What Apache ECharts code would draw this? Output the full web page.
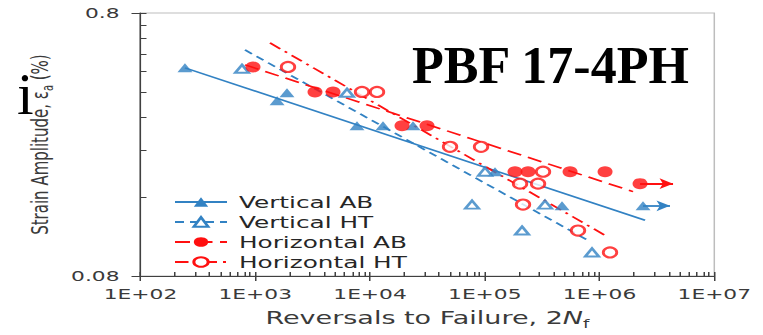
<!DOCTYPE html>
<html><head><meta charset="utf-8">
<script src="https://cdn.jsdelivr.net/npm/echarts@6/dist/echarts.min.js"></script>
<style>
html,body{margin:0;padding:0;background:#fff;overflow:hidden;}
#wrap{width:763px;height:335px;overflow:hidden;position:relative;background:#fff;}
#chart{position:absolute;left:0;top:0;width:508.667px;height:335px;transform:scaleX(1.5);transform-origin:0 0;}
</style></head><body><div id="wrap"><div id="chart"></div></div>
<script>
const S = 1.5; // the reference figure is stretched horizontally

// ---- tick labels / categories ----
const xTickLabels = ['1E+02', '1E+03', '1E+04', '1E+05', '1E+06', '1E+07'];
const yTickLabels = ['0.08', '0.8'];
const seriesNames = ['Vertical AB', 'Vertical HT', 'Horizontal AB', 'Horizontal HT'];
const titleText = 'PBF 17-4PH';

// ---- test data: reversals to failure (2Nf) and strain amplitude (%) ----
const vabN      = [244, 1550, 1890, 7700, 12980, 23700, 122800, 471000, 2393000];
const vabStrain = [0.495, 0.371, 0.398, 0.298, 0.298, 0.298, 0.1995, 0.148, 0.148];
const vhtN      = [766, 6300, 100500, 77440, 335000, 211200, 860000];
const vhtStrain = [0.491, 0.398, 0.1995, 0.1496, 0.1496, 0.1192, 0.0984];
const habN      = [956, 3316, 4760, 19000, 31380, 183400, 238200, 553400, 1117000, 2254000];
const habStrain = [0.499, 0.401, 0.401, 0.298, 0.298, 0.1995, 0.1995, 0.1995, 0.1995, 0.1797];
const hhtN      = [1929, 8515, 11510, 49800, 92750, 321800, 202900, 291200, 215400, 649400, 1234000];
const hhtStrain = [0.499, 0.401, 0.401, 0.248, 0.248, 0.1995, 0.1797, 0.1797, 0.1496, 0.1192, 0.0984];

// ---- fitted strain-life lines (end points) ----
const vabFitN = [244, 2492000];      const vabFitStrain = [0.495, 0.1304];
const vhtFitN = [814, 826300];       const vhtFitStrain = [0.579, 0.1083];
const habFitN = [814, 1958000];      const habFitStrain = [0.508, 0.1676];
const hhtFitN = [1344, 1163000];     const hhtFitStrain = [0.6156, 0.1132];

// ---- run-outs (arrow from point to tip) ----
const vabRunoutN = [2393000, 4110000]; const vabRunoutStrain = [0.148, 0.148];
const habRunoutN = [2254000, 4370000]; const habRunoutStrain = [0.1797, 0.1797];

// ---- tick positions ----
const xMajor = [1e2, 1e3, 1e4, 1e5, 1e6, 1e7];
const xMinor = [];
for (let d = 2; d < 7; d++) for (let k = 1; k <= 9; k++) xMinor.push(k * Math.pow(10, d));
xMinor.push(1e7);
const yMajor = [0.08, 0.8];
const yMinor = [];
for (let k = 1; k <= 10; k++) yMinor.push(+(0.08 * k).toFixed(2));

const blue = '#3282c3';
const red = '#ff1010';
const axisColor = '#404040';
const textColor = '#3a3a3a';
const font = 'DejaVu Sans';

const pts = (n, e) => n.map((v, i) => [v, e[i]]);

const chart = echarts.init(document.getElementById('chart'), null, {renderer: 'svg'});

function fitLine(name, n, e, color, type, symbol) {
  return {
    type: 'line', name: name, data: pts(n, e), symbol: symbol, showSymbol: false,
    symbolSize: 10, silent: true, z: 2,
    lineStyle: {color: color, width: 1.6, type: type},
    itemStyle: {color: color}
  };
}
function scatter(name, n, e, color, symbol, size, runN, runE) {
  const s = {
    type: 'scatter', name: name, data: pts(n, e), symbol: symbol, symbolSize: size, z: 3,
    itemStyle: {color: color, borderWidth: symbol.indexOf('empty') === 0 ? 1.5 : 0}
  };
  if (runN) {
    s.markLine = {
      silent: true, symbol: ['none', 'arrow'], symbolSize: [8, 9],
      label: {show: false},
      lineStyle: {color: color, type: 'solid', width: 1.8},
      data: [[{coord: [runN[0], runE[0]]}, {coord: [runN[1], runE[1]]}]]
    };
  }
  return s;
}

const option = {
  animation: false,
  backgroundColor: '#fff',
  grid: {left: 140.5 / S, top: 13, width: (714.3 - 140.5) / S, height: 263.7,
         show: true, borderColor: '#bdbdbd', borderWidth: 1, backgroundColor: 'transparent'},
  xAxis: [
    {
      type: 'log', logBase: 10, min: 1e2, max: 1e7, position: 'bottom',
      axisLine: {show: true, onZero: false, lineStyle: {color: axisColor, width: 1}},
      axisTick: {show: true, inside: false, length: 5, customValues: xMajor, lineStyle: {color: axisColor}},
      axisLabel: {customValues: xMajor, margin: 10, color: textColor, fontFamily: font, fontSize: 14.5,
                  formatter: v => xTickLabels[Math.round(Math.log10(v)) - 2]},
      splitLine: {show: false},
      name: 'Reversals to Failure, 2{it|N}{s|f}',
      nameLocation: 'middle', nameGap: 27,
      nameTextStyle: {color: textColor, fontFamily: font, fontSize: 18, lineHeight: 24,
        rich: {it: {fontFamily: font, fontSize: 18, fontStyle: 'italic', color: textColor, lineHeight: 24},
               s: {fontFamily: font, fontSize: 12, color: textColor, verticalAlign: 'bottom', lineHeight: 12}}}
    },
    {
      type: 'log', logBase: 10, min: 1e2, max: 1e7, position: 'bottom',
      axisLine: {show: false, onZero: false},
      axisTick: {show: true, inside: true, length: 4, customValues: xMinor, lineStyle: {color: axisColor}},
      axisLabel: {show: false}, splitLine: {show: false}
    }
  ],
  yAxis: [
    {
      type: 'log', logBase: 10, min: 0.08, max: 0.8, position: 'left',
      axisLine: {show: true, onZero: false, lineStyle: {color: axisColor, width: 1}},
      axisTick: {show: true, inside: false, length: 6, customValues: yMajor, lineStyle: {color: axisColor}},
      axisLabel: {customValues: yMajor, margin: 14, color: textColor, fontFamily: font, fontSize: 14.5,
                  formatter: v => (v < 0.3 ? yTickLabels[0] : yTickLabels[1])},
      splitLine: {show: false},
      name: 'Strain Amplitude, \u03b5{s|a} (%)',
      nameLocation: 'middle', nameRotate: 90, nameGap: 42,
      nameTextStyle: {color: textColor, fontFamily: font, fontSize: 15, lineHeight: 19,
        rich: {s: {fontFamily: font, fontSize: 10, color: textColor, verticalAlign: 'bottom', lineHeight: 10}}}
    },
    {
      type: 'log', logBase: 10, min: 0.08, max: 0.8, position: 'left',
      axisLine: {show: false, onZero: false},
      axisTick: {show: true, inside: true, length: 4, customValues: yMinor, lineStyle: {color: axisColor}},
      axisLabel: {show: false}, splitLine: {show: false}
    }
  ],
  legend: {
    data: seriesNames, orient: 'vertical', left: 166 / S, top: 187,
    itemWidth: 52 / S, itemHeight: 12, itemGap: 0, selectedMode: false,
    textStyle: {fontFamily: font, fontSize: 16.5, lineHeight: 20, color: '#262626', padding: [0, 0, 0, 3]}
  },
  graphic: [
    {type: 'text', x: 412 / S, y: 66, scaleX: 1 / S, z: 10,
     style: {text: titleText, font: 'bold 52px "Liberation Serif"', fill: '#000', verticalAlign: 'middle'}},
    {type: 'text', x: 17 / S, y: 94, scaleX: 1 / S, z: 10,
     style: {text: 'i', font: '60px "Liberation Serif"', fill: '#000', verticalAlign: 'middle'}}
  ],
  series: [
    fitLine(seriesNames[0], vabFitN, vabFitStrain, blue, 'solid', 'triangle'),
    fitLine(seriesNames[1], vhtFitN, vhtFitStrain, blue, [6, 4], 'emptyTriangle'),
    fitLine(seriesNames[2], habFitN, habFitStrain, red, [10, 5], 'circle'),
    fitLine(seriesNames[3], hhtFitN, hhtFitStrain, red, [9, 4, 2, 4], 'emptyCircle'),
    scatter(seriesNames[0], vabN, vabStrain, blue, 'triangle', [10, 9], vabRunoutN, vabRunoutStrain),
    scatter(seriesNames[1], vhtN, vhtStrain, blue, 'emptyTriangle', [9, 8]),
    scatter(seriesNames[2], habN, habStrain, red, 'circle', [10, 11], habRunoutN, habRunoutStrain),
    scatter(seriesNames[3], hhtN, hhtStrain, red, 'emptyCircle', [9, 10])
  ]
};
chart.setOption(option);
</script></body></html>
